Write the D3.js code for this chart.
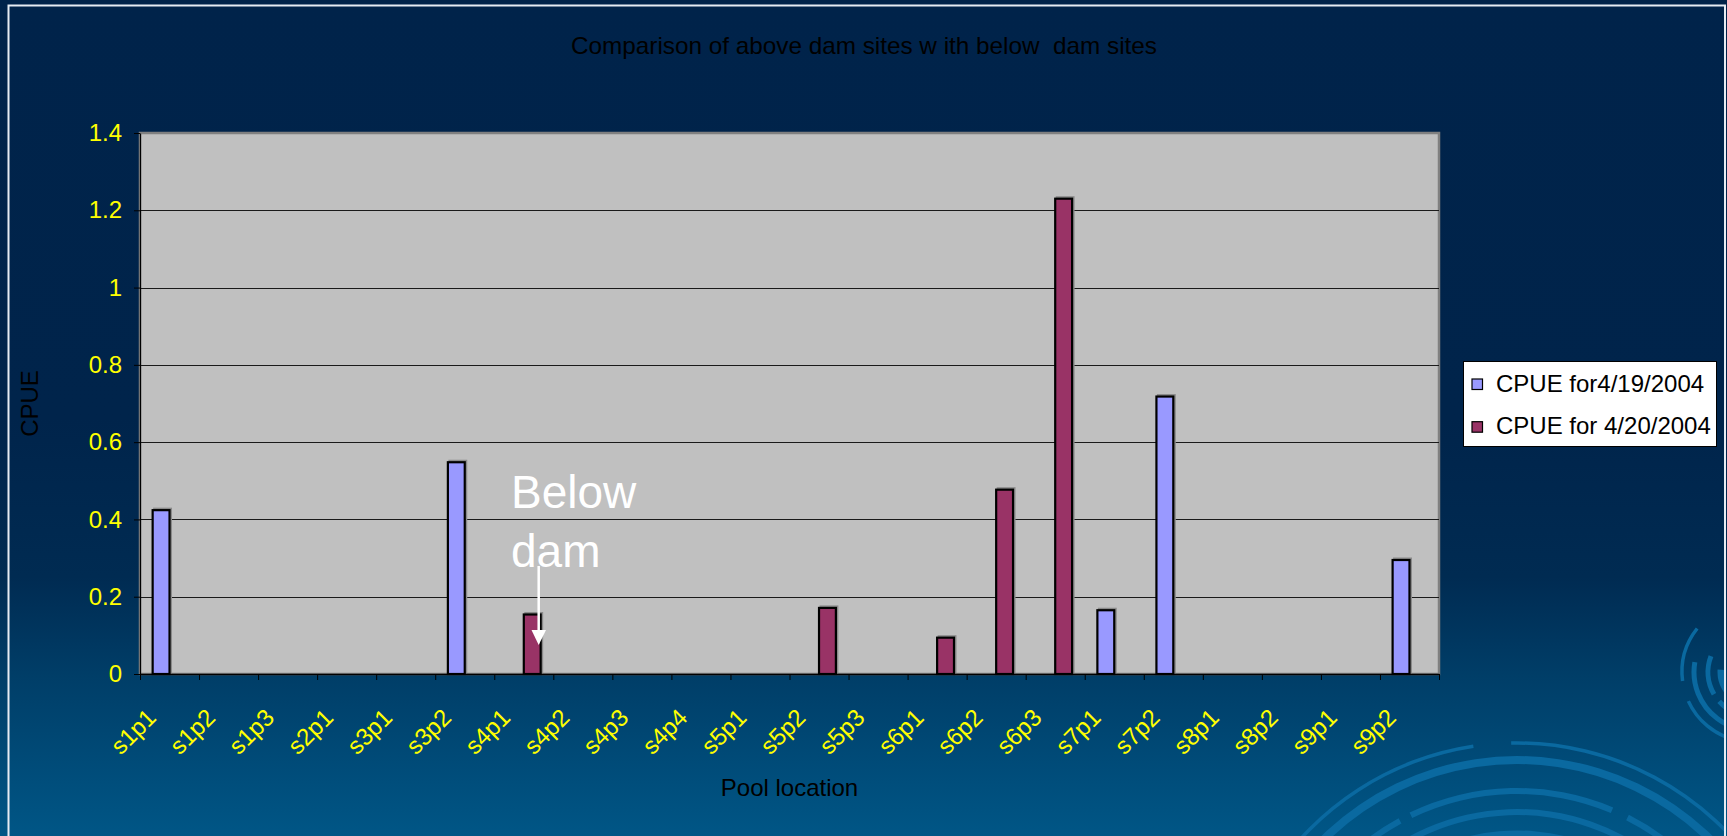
<!DOCTYPE html>
<html>
<head>
<meta charset="utf-8">
<script src="https://cdn.jsdelivr.net/npm/d3@7"></script>
<style>
  html, body { margin: 0; padding: 0; background: #00234a; overflow: hidden; }
  text { font-family: Arial, "Liberation Sans", sans-serif; }
</style>
</head>
<body>
<svg id="chart" width="1727" height="836"></svg>
<script>
// Pool locations along the creek
const categories = ["s1p1","s1p2","s1p3","s2p1","s3p1","s3p2","s4p1","s4p2","s4p3","s4p4",
                    "s5p1","s5p2","s5p3","s6p1","s6p2","s6p3","s7p1","s7p2","s8p1","s8p2","s9p1","s9p2"];
const seriesNames = ["CPUE for4/19/2004", "CPUE for 4/20/2004"];
// Catch per unit effort by sampling date (null = no fish recorded)
const cpue0419 = [0.424, null, null, null, null, 0.548, null, null, null, null,
                  null, null, null, null, null, null, 0.165, 0.718, null, null, null, 0.295];
const cpue0420 = [null, null, null, null, null, null, 0.154, null, null, null,
                  null, 0.171, null, 0.094, 0.477, 1.23, null, null, null, null, null, null];
const yTicks = [0, 0.2, 0.4, 0.6, 0.8, 1, 1.2, 1.4];
const yTickLabels = ["0", "0.2", "0.4", "0.6", "0.8", "1", "1.2", "1.4"];
const seriesColors = ["#9999ff", "#993366"];

const W = 1727, H = 836;
const plot = { left: 140, right: 1439, top: 133, bottom: 674 };
const svg = d3.select("#chart");

// ---- slide background ----
const defs = svg.append("defs");
const bg = defs.append("linearGradient").attr("id", "bg")
  .attr("x1", 0).attr("y1", 0).attr("x2", 0).attr("y2", 1);
[[0, "#00234a"], [0.5, "#00244b"], [0.69, "#002b52"], [0.81, "#003e68"], [1, "#005686"]]
  .forEach(([o, c]) => bg.append("stop").attr("offset", o).attr("stop-color", c));
svg.append("rect").attr("width", W).attr("height", H).attr("fill", "url(#bg)");

defs.append("clipPath").attr("id", "frameClip")
  .append("rect").attr("x", 9).attr("y", 6).attr("width", 1716).attr("height", 840);

// concentric ripple decoration in the lower right corner
const deco = svg.append("g").attr("clip-path", "url(#frameClip)").attr("fill", "#0a69a0");
const ripple = [
  { cx: 1517, cy: 1035, r: 292, w: 3.5, segs: [[-1.0, -0.15], [-0.02, 1.0]] },
  { cx: 1517, cy: 1035, r: 275, w: 8, segs: [[-1.2, 1.2]] },
  { cx: 1517, cy: 1035, r: 244, w: 6, segs: [[-0.9, -0.5], [-0.45, 0.4], [0.47, 1.1]] },
  { cx: 1517, cy: 1035, r: 223, w: 6, segs: [[-1.1, -0.7], [-0.6, 0.9]] },
  { cx: 1517, cy: 1035, r: 200, w: 9, segs: [[-1.0, -0.55], [-0.45, 1.0]] },
  { cx: 1752, cy: 672, r: 70, w: 3.5, segs: [[-2.9, -2.0], [-1.7, -0.9]] },
  { cx: 1752, cy: 672, r: 58, w: 5, segs: [[-3.6, -1.4]] },
  { cx: 1752, cy: 672, r: 44, w: 5, segs: [[-3.4, -2.3], [-2.1, -1.2]] },
  { cx: 1752, cy: 672, r: 30, w: 9, segs: [[-3.8, -1.5]] }
];
ripple.forEach(rg => rg.segs.forEach(([a0, a1]) => {
  deco.append("path")
    .attr("transform", `translate(${rg.cx},${rg.cy})`)
    .attr("d", d3.arc()({ innerRadius: rg.r - rg.w / 2, outerRadius: rg.r + rg.w / 2, startAngle: a0, endAngle: a1 }));
}));

// slide frame
svg.append("rect").attr("x", 8.5).attr("y", 5.5).attr("width", 1716.5).attr("height", 900)
  .attr("fill", "none").attr("stroke", "#e6ecf3").attr("stroke-width", 2);

// ---- scales ----
const x = d3.scaleBand().domain(categories).range([plot.left, plot.right]).paddingInner(0).paddingOuter(0);
const xSub = d3.scaleBand().domain(seriesNames).range([0, x.bandwidth()]).paddingInner(0).paddingOuter(0.75);
const xEdge = d3.scaleLinear().domain([0, categories.length]).range([plot.left, plot.right]);
const y = d3.scaleLinear().domain([0, 1.4]).range([plot.bottom, plot.top]);

// ---- plot area ----
svg.append("rect")
  .attr("x", plot.left).attr("y", y(1.4))
  .attr("width", plot.right - plot.left).attr("height", y(0) - y(1.4))
  .attr("fill", "#c0c0c0").attr("stroke", "#808080").attr("stroke-width", 2.5);

svg.append("g").selectAll("line")
  .data(yTicks.filter(v => v > 0 && v < 1.4))
  .join("line")
  .attr("x1", plot.left).attr("x2", plot.right)
  .attr("y1", d => Math.round(y(d)) + 0.5).attr("y2", d => Math.round(y(d)) + 0.5)
  .attr("stroke", "#1a1a1a").attr("stroke-width", 1.2);

// ---- bars ----
const rows = categories.map((c, i) => ({ cat: c, vals: [cpue0419[i], cpue0420[i]] }));
const groups = svg.append("g").selectAll("g").data(rows).join("g")
  .attr("transform", d => `translate(${x(d.cat)},0)`);
const barData = d => d.vals.map((v, k) => ({ v, k })).filter(e => e.v != null);
// soft grey drop shadow behind each bar
groups.selectAll("rect.shadow").data(barData).join("rect").attr("class", "shadow")
  .attr("x", e => xSub(seriesNames[e.k]) + 1.5)
  .attr("y", e => y(e.v) - 1.5)
  .attr("width", xSub.bandwidth())
  .attr("height", e => y(0) - y(e.v))
  .attr("fill", "none").attr("stroke", "#8a8a8a").attr("stroke-width", 2);
groups.selectAll("rect.bar").data(barData).join("rect").attr("class", "bar")
  .attr("x", e => xSub(seriesNames[e.k]))
  .attr("y", e => y(e.v))
  .attr("width", xSub.bandwidth())
  .attr("height", e => y(0) - y(e.v))
  .attr("fill", e => seriesColors[e.k])
  .attr("stroke", "#000").attr("stroke-width", 2.2);

// ---- axes ----
const yAxis = svg.append("g").attr("transform", `translate(${plot.left},0)`)
  .call(d3.axisLeft(y).tickValues(yTicks).tickFormat((d, i) => yTickLabels[i])
    .tickSize(6).tickSizeOuter(0).tickPadding(12));
yAxis.select(".domain").attr("stroke", "#000").attr("stroke-width", 1.2);
yAxis.selectAll(".tick line").attr("stroke", "#000");
yAxis.selectAll(".tick text").attr("fill", "#ffff00").attr("font-size", 24)
  .attr("font-family", "Arial, 'Liberation Sans', sans-serif");

const xAxis = svg.append("g").attr("transform", `translate(0,${plot.bottom})`)
  .call(d3.axisBottom(xEdge).tickValues(d3.range(categories.length + 1)).tickFormat("")
    .tickSize(6).tickSizeOuter(0));
xAxis.select(".domain").attr("stroke", "#000").attr("stroke-width", 1.5);
xAxis.selectAll(".tick line").attr("stroke", "#000");

svg.append("g").selectAll("text").data(categories).join("text")
  .attr("transform", d => `translate(${x(d) + x.bandwidth() / 2 - 12},${plot.bottom + 45}) rotate(-45)`)
  .attr("text-anchor", "end")
  .attr("fill", "#ffff00").attr("font-size", 24)
  .text(d => d);

// ---- titles ----
svg.append("text").attr("x", 864).attr("y", 54).attr("text-anchor", "middle")
  .attr("font-size", 24).attr("fill", "#000").style("white-space", "pre")
  .attr("textLength", 586).attr("lengthAdjust", "spacingAndGlyphs")
  .text("Comparison of above dam sites w ith below  dam sites");

svg.append("text").attr("x", (plot.left + plot.right) / 2).attr("y", 796)
  .attr("text-anchor", "middle").attr("font-size", 24).attr("fill", "#000")
  .text("Pool location");

svg.append("text").attr("transform", `translate(38,${(plot.top + plot.bottom) / 2}) rotate(-90)`)
  .attr("text-anchor", "middle").attr("font-size", 24).attr("fill", "#000")
  .text("CPUE");

// ---- legend ----
const legend = svg.append("g");
legend.append("rect").attr("x", 1463.5).attr("y", 361.5).attr("width", 253).attr("height", 85)
  .attr("fill", "#fff").attr("stroke", "#000").attr("stroke-width", 1);
seriesNames.forEach((name, i) => {
  const by = 391.5 + i * 42.7;
  legend.append("rect").attr("x", 1472).attr("y", by - 12.5).attr("width", 10.5).attr("height", 10.5)
    .attr("fill", seriesColors[i]).attr("stroke", "#000").attr("stroke-width", 1.2);
  legend.append("text").attr("x", 1496).attr("y", by).attr("font-size", 24).attr("fill", "#000")
    .style("white-space", "pre").text(name);
});

// ---- annotation ----
const note = svg.append("g");
note.append("text").attr("x", 511).attr("y", 508).attr("font-size", 46).attr("fill", "#fff").text("Below");
note.append("text").attr("x", 511).attr("y", 567).attr("font-size", 46).attr("fill", "#fff").text("dam");
note.append("line").attr("x1", 538.7).attr("x2", 538.7).attr("y1", 566).attr("y2", 632)
  .attr("stroke", "#fff").attr("stroke-width", 2.5);
note.append("path").attr("d", "M531.5,630 L546,630 L538.7,645 Z").attr("fill", "#fff");
</script>
</body>
</html>
